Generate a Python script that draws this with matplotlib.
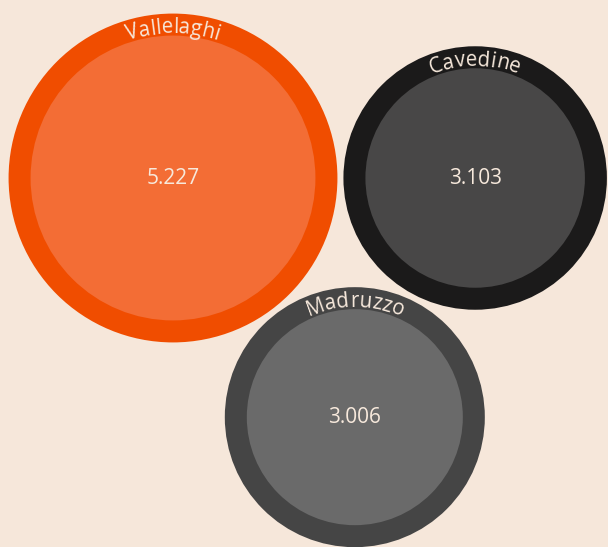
import numpy as np
import matplotlib
matplotlib.use("Agg")
import matplotlib.pyplot as plt
from matplotlib.patches import Circle
from matplotlib.font_manager import FontProperties
from matplotlib.textpath import TextToPath

# ---- data ----
names = ["Vallelaghi", "Cavedine", "Madruzzo"]
values = [5227, 3103, 3006]
outer_colors = ["#f04d00", "#1b1a1a", "#454545"]
inner_colors = ["#f36d35", "#484747", "#6a6a6a"]

BG = "#f6e7da"
TXT = "#f7e9dc"
FONT = "Open Sans"

W, H, DPI = 608, 547, 100
k = 1.97          # inner radius scale (px per sqrt(unit))
ring = 22         # ring width, px
pad = 6           # gap between circles, px

def fmt(v):
    return f"{v:,}".replace(",", ".")

r_in = [k * np.sqrt(v) for v in values]
r_out = [r + ring for r in r_in]

# simple pack layout: first circle at origin, second to its right, third below, tangent to both
c0 = np.array([0.0, 0.0])
b = r_out[0] + r_out[1] + pad
c1 = np.array([b, 0.0])
d1 = r_out[0] + r_out[2] + pad
d2 = r_out[1] + r_out[2] + pad
xx = (d1**2 - d2**2 + b**2) / (2 * b)
yy = np.sqrt(d1**2 - xx**2)
c2 = np.array([xx, yy])   # y grows downward (axis inverted)
centers = [c0, c1, c2]

fig = plt.figure(figsize=(W / DPI, H / DPI), dpi=DPI, facecolor=BG)
ax = fig.add_axes([0, 0, 1, 1])
ax.set_facecolor(BG)
ox, oy = 173, 178
ax.set_xlim(-ox, W - ox)
ax.set_ylim(H - oy, -oy)
ax.set_aspect("equal")
ax.axis("off")

ttp = TextToPath()
label_fp = FontProperties(family=FONT, size=14.8)
px_per_pt = DPI / 72.0

def text_w(s):
    if not s:
        return 0.0
    w, h, d = ttp.get_text_width_height_descent(s, label_fp, ismath=False)
    return w * px_per_pt

def curved_label(cx, cy, R, s, track=0.0):
    n = len(s)
    total = text_w(s) + track * (n - 1)
    for i, ch in enumerate(s):
        a = text_w(s[:i])
        bnd = text_w(s[:i + 1])
        center = (a + bnd) / 2 + track * i - total / 2
        phi = center / R
        x = cx + R * np.sin(phi)
        y = cy - R * np.cos(phi)
        ax.text(x, y, ch, fontproperties=label_fp, color=TXT,
                rotation=-np.degrees(phi), rotation_mode="anchor",
                ha="center", va="baseline")

for name, v, c, ro, ri, oc, ic in zip(names, values, centers, r_out, r_in,
                                      outer_colors, inner_colors):
    ax.add_patch(Circle(c, ro, facecolor=oc, edgecolor="none"))
    ax.add_patch(Circle(c, ri, facecolor=ic, edgecolor="none"))
    ax.text(c[0], c[1], fmt(v), family=FONT, fontsize=15, color=TXT,
            ha="center", va="center")
    curved_label(c[0], c[1], ro - 19.5, name)

fig.savefig("out.png", dpi=DPI, facecolor=BG)
